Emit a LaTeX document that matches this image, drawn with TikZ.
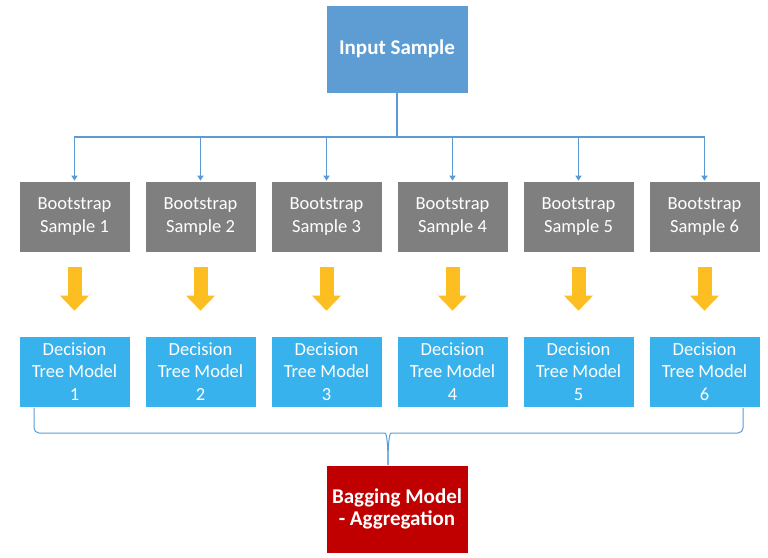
\documentclass[tikz,border=0pt]{standalone}
\usepackage{fontspec}
\setmainfont{Carlito}
\usetikzlibrary{arrows.meta}

\definecolor{inblue}{HTML}{5E9DD4}
\definecolor{bootgray}{HTML}{7F7F7F}
\definecolor{treeblue}{HTML}{38B2EC}
\definecolor{bagred}{HTML}{C00000}
\definecolor{arrowyellow}{HTML}{FDBE22}
\definecolor{linkblue}{HTML}{5B9BD5}

\begin{document}
\begin{tikzpicture}[
    x=1pt, y=-1pt,
    box/.style={rectangle, draw=white, line width=0.6pt, text=white, inner sep=0pt, align=center},
    inbox/.style={box, fill=inblue, minimum width=142pt, minimum height=88pt, font=\fontsize{21}{22.5}\selectfont\bfseries},
    bagbox/.style={box, fill=bagred, minimum width=142pt, minimum height=88pt, font=\fontsize{21}{22.5}\selectfont\bfseries},
    bootbox/.style={box, fill=bootgray, minimum width=111pt, minimum height=71pt, font=\fontsize{18.5}{22.5}\selectfont},
    treebox/.style={box, fill=treeblue, minimum width=111pt, minimum height=71pt, font=\fontsize{18.5}{22.8}\selectfont},
    link/.style={draw=linkblue, line width=1.3pt},
    fatarrow/.style={draw=arrowyellow, line width=14pt, shorten <=15pt, shorten >=25pt,
        -{Triangle[width=28pt, length=15pt]}}
]
\useasboundingbox (0,0) rectangle (768,557);

\node[inbox] (input) at (397,49) {Input Sample};

\node[bootbox] (b1) at (74.5,216.5) {Bootstrap\\Sample 1};
\node[bootbox] (b2) at (200.5,216.5) {Bootstrap\\Sample 2};
\node[bootbox] (b3) at (326.5,216.5) {Bootstrap\\Sample 3};
\node[bootbox] (b4) at (452.5,216.5) {Bootstrap\\Sample 4};
\node[bootbox] (b5) at (578.5,216.5) {Bootstrap\\Sample 5};
\node[bootbox] (b6) at (704.5,216.5) {Bootstrap\\Sample 6};

\node[treebox] (t1) at (74.5,371.5) {Decision\\Tree Model\\1};
\node[treebox] (t2) at (200.5,371.5) {Decision\\Tree Model\\2};
\node[treebox] (t3) at (326.5,371.5) {Decision\\Tree Model\\3};
\node[treebox] (t4) at (452.5,371.5) {Decision\\Tree Model\\4};
\node[treebox] (t5) at (578.5,371.5) {Decision\\Tree Model\\5};
\node[treebox] (t6) at (704.5,371.5) {Decision\\Tree Model\\6};

\node[bagbox] (bag) at (397,509) {Bagging Model\\- Aggregation};

% split line from the input sample
\coordinate (split) at (397,137);
\draw[link] (input.south) -- (split);
\draw[link, -{Triangle[width=6pt, length=5pt]}] (split) -| (b1.north);
\draw[link, -{Triangle[width=6pt, length=5pt]}] (split) -| (b2.north);
\draw[link, -{Triangle[width=6pt, length=5pt]}] (split) -| (b3.north);
\draw[link, -{Triangle[width=6pt, length=5pt]}] (split) -| (b4.north);
\draw[link, -{Triangle[width=6pt, length=5pt]}] (split) -| (b5.north);
\draw[link, -{Triangle[width=6pt, length=5pt]}] (split) -| (b6.north);

\draw[fatarrow] (b1) -- (t1);
\draw[fatarrow] (b2) -- (t2);
\draw[fatarrow] (b3) -- (t3);
\draw[fatarrow] (b4) -- (t4);
\draw[fatarrow] (b5) -- (t5);
\draw[fatarrow] (b6) -- (t6);

% brace over the trees
\coordinate (bl) at (34,408);
\coordinate (br) at (743,408);
\coordinate (tip) at (388,465);
\draw[link, line width=1pt, rounded corners=5pt] (bl) -- ++(0,25) -- (380,433)
    .. controls (386,433) and (388,438) .. (tip);
\draw[link, line width=1pt, rounded corners=5pt] (br) -- ++(0,25) -- (396,433)
    .. controls (390,433) and (388,438) .. (tip);
\end{tikzpicture}
\end{document}
